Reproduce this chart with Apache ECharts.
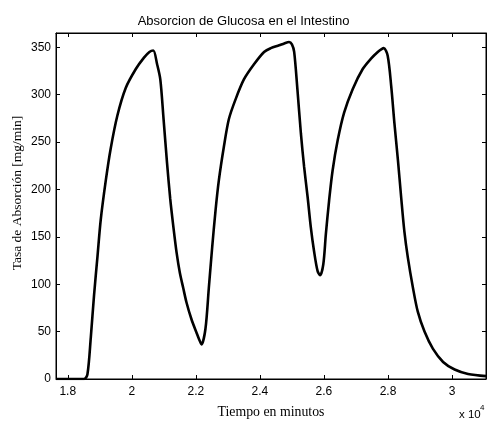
<!DOCTYPE html>
<html>
<head>
<meta charset="utf-8">
<script src="https://cdn.jsdelivr.net/npm/echarts@6/dist/echarts.min.js"></script>
<style>html,body{margin:0;padding:0;background:#fff}#c{width:487px;height:421px}</style>
</head>
<body>
<div id="c"></div>
<script>
// time in minutes
var timeMinutes = [17633,18510,18615,18720,18820,18930,19030,19190,19340,19550,19810,20125,20380,20550,20670,20790,20890,20990,21100,21200,21300,21400,21500,21606,21706,21863,22019,22100,22176,22300,22405,22510,22615,22720,22875,23030,23240,23500,23815,24130,24340,24600,24760,24910,25000,25070,25170,25280,25380,25490,25590,25690,25800,25880,25980,26060,26160,26270,26430,26630,26900,27210,27470,27680,27800,27870,27990,28100,28200,28310,28410,28510,28620,28780,28930,29140,29400,29720,30080,30500,31060];
var absorptionRate = [0,0,5,44,88,130,168,210,243,278,307,327,339,345,346.5,332,316,275,228,190,160,133,112,96,81,63,49,42,36.5,53,96,139,178,210,245,274,295,316,332,345,349,352,354,355.5,353,345,306,259,224,192,160,135,114,109.5,121,153,188,220,252,281,306,327,338,345,348,349,341,309,270,231,192,156,128,96,71,50,32,18,10,5.3,3];
var xTickValues = [18000,20000,22000,24000,26000,28000,30000];
var yTickValues = [0,50,100,150,200,250,300,350];
var chartTitle = 'Absorcion de Glucosa en el Intestino';
var xLabel = 'Tiempo en minutos';
var yLabel = 'Tasa de Absorción [mg/min]';

var data = timeMinutes.map(function(t,i){return [t, absorptionRate[i]];});
var sans = 'Liberation Sans, Arial, sans-serif';
var serif = 'Liberation Serif, Times New Roman, serif';
var xMin = 17633, xMax = 31060, yMin = 0, yMax = 365;

function fmtX(v){ return String(Math.round(v/1000)/10); }

var axisLineStyle = {show:true, onZero:false, lineStyle:{color:'#000', width:1}};
var chart = echarts.init(document.getElementById('c'), null, {renderer:'canvas'});
chart.setOption({
  animation:false,
  backgroundColor:'#fff',
  title:{text:chartTitle, left:'center', top:10, textStyle:{fontFamily:sans, fontSize:13, fontWeight:'normal', color:'#000'}},
  grid:{left:56, right:1, top:33, bottom:42, containLabel:false, show:true, borderColor:'#000', borderWidth:1, backgroundColor:'transparent'},
  xAxis:[
    {type:'value', min:xMin, max:xMax, position:'bottom',
     axisLine:axisLineStyle, splitLine:{show:false},
     axisTick:{show:true, inside:true, length:4, customValues:xTickValues, lineStyle:{color:'#000'}},
     axisLabel:{customValues:xTickValues, formatter:fmtX, color:'#000', fontFamily:sans, fontSize:12, margin:7}},
    {type:'value', min:xMin, max:xMax, position:'top',
     axisLine:axisLineStyle, splitLine:{show:false},
     axisTick:{show:true, inside:true, length:4, customValues:xTickValues, lineStyle:{color:'#000'}},
     axisLabel:{show:false}}
  ],
  yAxis:[
    {type:'value', min:yMin, max:yMax, position:'left',
     axisLine:axisLineStyle, splitLine:{show:false},
     axisTick:{show:true, inside:true, length:4, customValues:yTickValues, lineStyle:{color:'#000'}},
     axisLabel:{customValues:yTickValues, color:'#000', fontFamily:sans, fontSize:12, margin:5}},
    {type:'value', min:yMin, max:yMax, position:'right',
     axisLine:axisLineStyle, splitLine:{show:false},
     axisTick:{show:true, inside:true, length:4, customValues:yTickValues, lineStyle:{color:'#000'}},
     axisLabel:{show:false}}
  ],
  series:[{type:'line', data:data, xAxisIndex:0, yAxisIndex:0, showSymbol:false, smooth:0.3,
    lineStyle:{color:'#000', width:2.6}, clip:true}],
  graphic:[
    {type:'text', x:17, y:193, rotation:Math.PI/2, style:{text:yLabel, font:'13.5px '+serif, fill:'#000', align:'center', verticalAlign:'middle'}},
    {type:'text', x:271, y:412, style:{text:xLabel, font:'13.8px '+serif, fill:'#000', align:'center', verticalAlign:'middle'}},
    {type:'text', x:459, y:415, style:{text:'x 10', font:'11.5px '+sans, fill:'#000', align:'left', verticalAlign:'middle'}},
    {type:'text', x:480, y:408, style:{text:'4', font:'8px '+sans, fill:'#000', align:'left', verticalAlign:'middle'}}
  ]
});
</script>
</body>
</html>
